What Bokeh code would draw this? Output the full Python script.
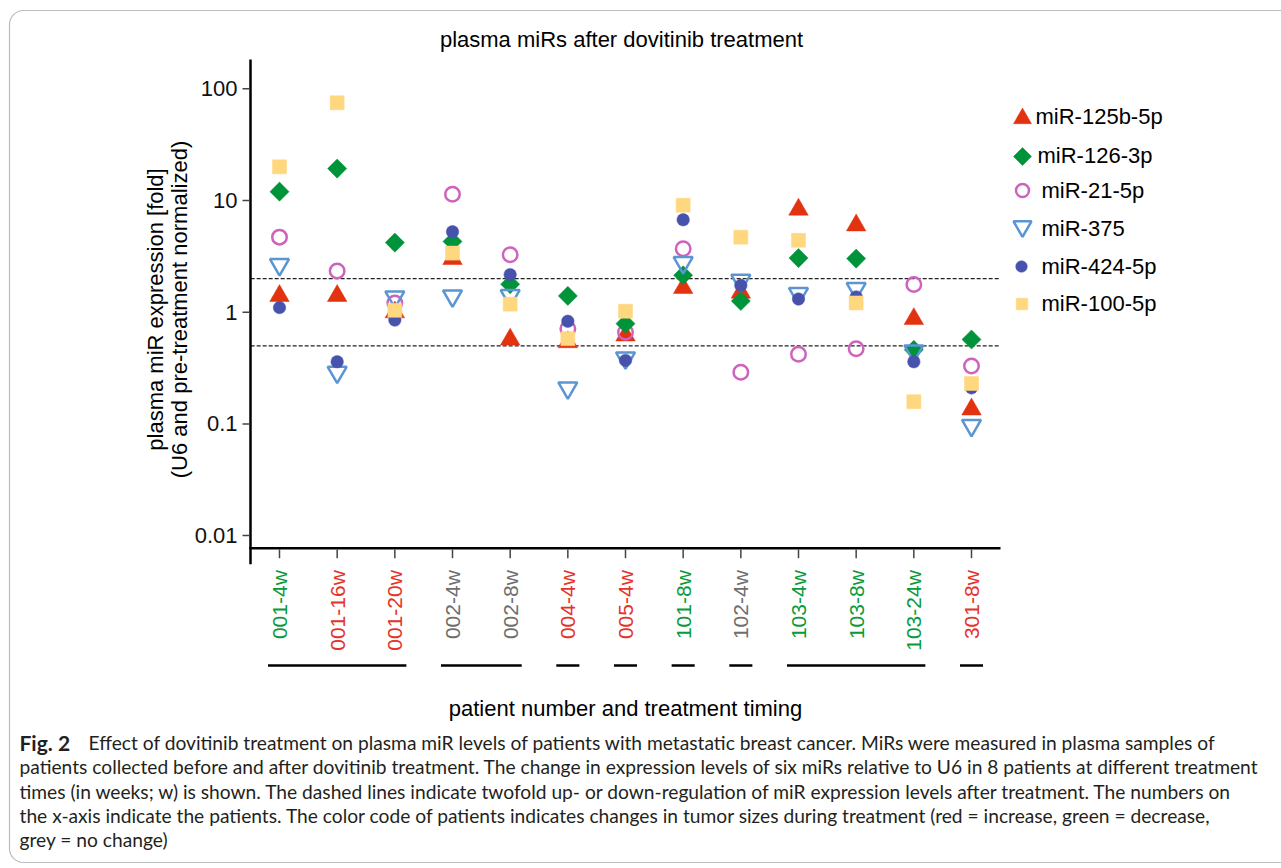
import math
from bokeh.plotting import figure
from bokeh.models import (Range1d, LogScale, LinearScale, Label, ColumnDataSource, BoxAnnotation)
from bokeh.core.properties import value
from bokeh.embed import file_html
from bokeh.resources import INLINE

# ---------------- data ----------------
categories = ["001-4w", "001-16w", "001-20w", "002-4w", "002-8w", "004-4w", "005-4w",
              "101-8w", "102-4w", "103-4w", "103-8w", "103-24w", "301-8w"]
# tumour size change: green = decrease, red = increase, grey = no change
category_colors = ["#0A9A3A", "#E5332A", "#E5332A", "#6E6E6E", "#6E6E6E", "#E5332A", "#E5332A",
                   "#0A9A3A", "#6E6E6E", "#0A9A3A", "#0A9A3A", "#0A9A3A", "#E5332A"]

series_names = ["miR-125b-5p", "miR-126-3p", "miR-21-5p", "miR-375", "miR-424-5p", "miR-100-5p"]
mir_125b_5p = [1.4, 1.4, 1.0, 3.0, 0.57, 0.54, 0.62, 1.65, 1.5, 8.3, 6.0, 0.87, 0.135]
mir_126_3p = [12.0, 19.3, 4.2, 4.3, 1.78, 1.40, 0.79, 2.14, 1.26, 3.05, 3.02, 0.46, 0.57]
mir_21_5p = [4.7, 2.34, 1.21, 11.4, 3.27, 0.71, 0.66, 3.7, 0.29, 0.42, 0.47, 1.77, 0.33]
mir_375 = [2.67, 0.29, 1.37, 1.40, 1.41, 0.21, 0.39, 2.78, 1.93, 1.47, 1.63, 0.45, 0.097]
mir_424_5p = [1.1, 0.36, 0.85, 5.25, 2.17, 0.83, 0.37, 6.72, 1.74, 1.31, 1.37, 0.36, 0.21]
mir_100_5p = [20.0, 75.0, 1.04, 3.38, 1.18, 0.58, 1.02, 9.08, 4.7, 4.4, 1.21, 0.158, 0.23]

y_ticks = [0.01, 0.1, 1, 10, 100]
y_tick_labels = ["0.01", "0.1", "1", "10", "100"]
fold_thresholds = [2, 0.5]

# patient groups (index of first / last sample of each patient)
group_first = [0, 3, 5, 6, 7, 8, 9, 12]
group_last = [2, 4, 5, 6, 7, 8, 11, 12]

caption_bold = "Fig. 2"
caption_lines = [
    "Effect of dovitinib treatment on plasma miR levels of patients with metastatic breast cancer. MiRs were measured in plasma samples of",
    "patients collected before and after dovitinib treatment. The change in expression levels of six miRs relative to U6 in 8 patients at different treatment",
    "times (in weeks; w) is shown. The dashed lines indicate twofold up- or down-regulation of miR expression levels after treatment. The numbers on",
    "the x-axis indicate the patients. The color code of patients indicates changes in tumor sizes during treatment (red = increase, green = decrease,",
    "grey = no change)",
]

# ---------------- layout (pixels) ----------------
W, H = 1281, 868
FONT = "Liberation Sans"
X_FIRST_PX, X_LAST_PX = 279.0, 971.0          # first / last category position
PX_PER_CAT = (X_LAST_PX - X_FIRST_PX) / (len(categories) - 1)
Y_ONE_PX, PX_PER_DEC = 311.7, 111.7            # pixel row of fold = 1, pixels per decade
AX_LEFT, AX_RIGHT = 250.0, 1000.0
AX_TOP, AX_BOTTOM = 59.0, 547.7

# base ranges are pixel coordinates of the whole canvas (y downwards)
p = figure(width=W, height=H, output_backend="svg", toolbar_location=None, title=None,
           x_range=Range1d(0, W), y_range=Range1d(H, 0),
           x_axis_location=None, y_axis_location=None, min_border=0)
p.outline_line_color = None
p.xgrid.visible = False
p.ygrid.visible = False
p.background_fill_color = "white"
p.border_fill_color = "white"

# data ranges placed so that the plotting area lands where the original one is
p.extra_x_ranges = {"cat": Range1d(-X_FIRST_PX / PX_PER_CAT, (W - X_FIRST_PX) / PX_PER_CAT)}
p.extra_x_scales = {"cat": LinearScale()}
p.extra_y_ranges = {"fold": Range1d(10 ** ((Y_ONE_PX - H) / PX_PER_DEC), 10 ** (Y_ONE_PX / PX_PER_DEC))}
p.extra_y_scales = {"fold": LogScale()}

xs = list(range(len(categories)))
src = ColumnDataSource(dict(x=xs, tri=mir_125b_5p, dia=mir_126_3p, circ=mir_21_5p,
                            inv=mir_375, dot=mir_424_5p, sq=mir_100_5p))

# dashed twofold threshold lines
x_lo, x_hi = -0.5, len(categories) - 0.5
p.segment(x0=[x_lo] * len(fold_thresholds), x1=[x_hi] * len(fold_thresholds),
          y0=fold_thresholds, y1=fold_thresholds, x_range_name="cat", y_range_name="fold",
          line_color="#222222", line_width=1.3, line_dash="4 2")

# ---------------- axes (drawn by hand) ----------------
p.segment(x0=[AX_LEFT], y0=[AX_TOP], x1=[AX_LEFT], y1=[AX_BOTTOM + 16], line_color="black", line_width=2.5)
p.segment(x0=[AX_LEFT - 1.25], y0=[AX_BOTTOM], x1=[AX_RIGHT], y1=[AX_BOTTOM], line_color="black", line_width=2.5)
# x ticks + coloured labels
p.segment(x0=xs, y0=[AX_BOTTOM + 1.2] * len(xs), x1=xs, y1=[AX_BOTTOM + 10] * len(xs),
          x_range_name="cat", line_color="#444444", line_width=1.5)
lab_src = ColumnDataSource(dict(x=xs, y=[AX_BOTTOM + 22] * len(xs), text=categories, color=category_colors))
p.text(x="x", y="y", text="text", text_color="color", source=lab_src, x_range_name="cat",
       angle=math.pi / 2, text_align="right", text_baseline="middle",
       text_font=value(FONT), text_font_size="21px")
# y ticks + labels
p.segment(x0=[AX_LEFT - 8] * len(y_ticks), y0=y_ticks, x1=[AX_LEFT - 1.2] * len(y_ticks), y1=y_ticks,
          y_range_name="fold", line_color="#444444", line_width=1.5)
p.text(x=[AX_LEFT - 13] * len(y_ticks), y=y_ticks, text=y_tick_labels, y_range_name="fold",
       text_align="right", text_baseline="middle", text_color="#111111",
       text_font=value(FONT), text_font_size="22px")

# patient group bars
p.segment(x0=[g - 0.2 for g in group_first], x1=[g + 0.2 for g in group_last],
          y0=[665] * len(group_first), y1=[665] * len(group_first),
          x_range_name="cat", line_color="black", line_width=2.5)

# ---------------- markers ----------------
C_TRI, C_DIA, C_CIRC, C_INV, C_DOT, C_SQ = "#E2320F", "#00943A", "#CF62BD", "#5B95D3", "#4652AC", "#FFD77F"
styles = {
    "tri": dict(marker="triangle", fill_color=C_TRI, line_color=C_TRI, line_width=0.5, angle=0),
    "circ": dict(marker="circle", fill_color=None, line_color=C_CIRC, line_width=2.5, angle=0),
    "dia": dict(marker="square", fill_color=C_DIA, line_color=C_DIA, line_width=0.5, angle=math.pi / 4),
    "inv": dict(marker="inverted_triangle", fill_color=None, line_color=C_INV, line_width=2.5, angle=0),
    "dot": dict(marker="circle", fill_color=C_DOT, line_color=C_DOT, line_width=0.5, angle=0),
    "sq": dict(marker="square", fill_color=C_SQ, line_color=C_SQ, line_width=0.5, angle=0),
}
plot_sizes = {"tri": 19.5, "circ": 14.5, "dia": 13.5, "inv": 19, "dot": 12.5, "sq": 14}
# drawing order (bottom to top)
for key in ["tri", "circ", "dia", "inv", "dot", "sq"]:
    p.scatter("x", key, source=src, size=plot_sizes[key], x_range_name="cat", y_range_name="fold",
              **styles[key])

# ---------------- texts ----------------
def add_label(x, y, text, size="22px", font=FONT, angle=0, align="center", style="normal", color="black"):
    p.add_layout(Label(x=x, y=y, text=text, angle=angle, text_align=align, text_baseline="middle",
                       text_font=font, text_font_size=size, text_font_style=style, text_color=color))

add_label(621, 39, "plasma miRs after dovitinib treatment")
add_label(625, 708, "patient number and treatment timing")
add_label(155, 309, "plasma miR expression [fold]", angle=math.pi / 2)
add_label(179, 309, "(U6 and pre-treatment normalized)", angle=math.pi / 2)

# legend: key marker + label for each miR
legend_keys = ["tri", "dia", "circ", "inv", "dot", "sq"]
legend_marker_xy = [(1022, 118), (1022, 156), (1022, 190), (1022, 226), (1021, 266), (1021.5, 303.5)]
legend_marker_size = [18, 12.7, 13, 18, 11.6, 11.6]
legend_text_xy = [(1035, 116), (1037, 155), (1041, 190), (1041, 228), (1041, 266), (1041, 303)]
for key, name, (mx, my), ms, (tx, ty) in zip(legend_keys, series_names, legend_marker_xy,
                                            legend_marker_size, legend_text_xy):
    p.scatter(x=[mx], y=[my], size=ms, **styles[key])
    add_label(tx, ty, name, align="left")

# caption
CAP_FONT = "Lato"
CAP_SIZE = "19.2px"
cap_y = [742, 766, 791, 815, 839]
add_label(19, cap_y[0], caption_bold, size="21px", font=CAP_FONT, align="left", style="bold", color="#231f20")
for i, line in enumerate(caption_lines):
    add_label(88 if i == 0 else 19, cap_y[i], line, size=CAP_SIZE, font=CAP_FONT, align="left", color="#231f20")

# rounded frame of the figure panel
p.add_layout(BoxAnnotation(left=9, right=1300, top=10, bottom=862,
                           fill_alpha=0, line_color="#222222", line_width=1.2, border_radius=14))

open("out.html", "w").write(file_html(p, INLINE))
